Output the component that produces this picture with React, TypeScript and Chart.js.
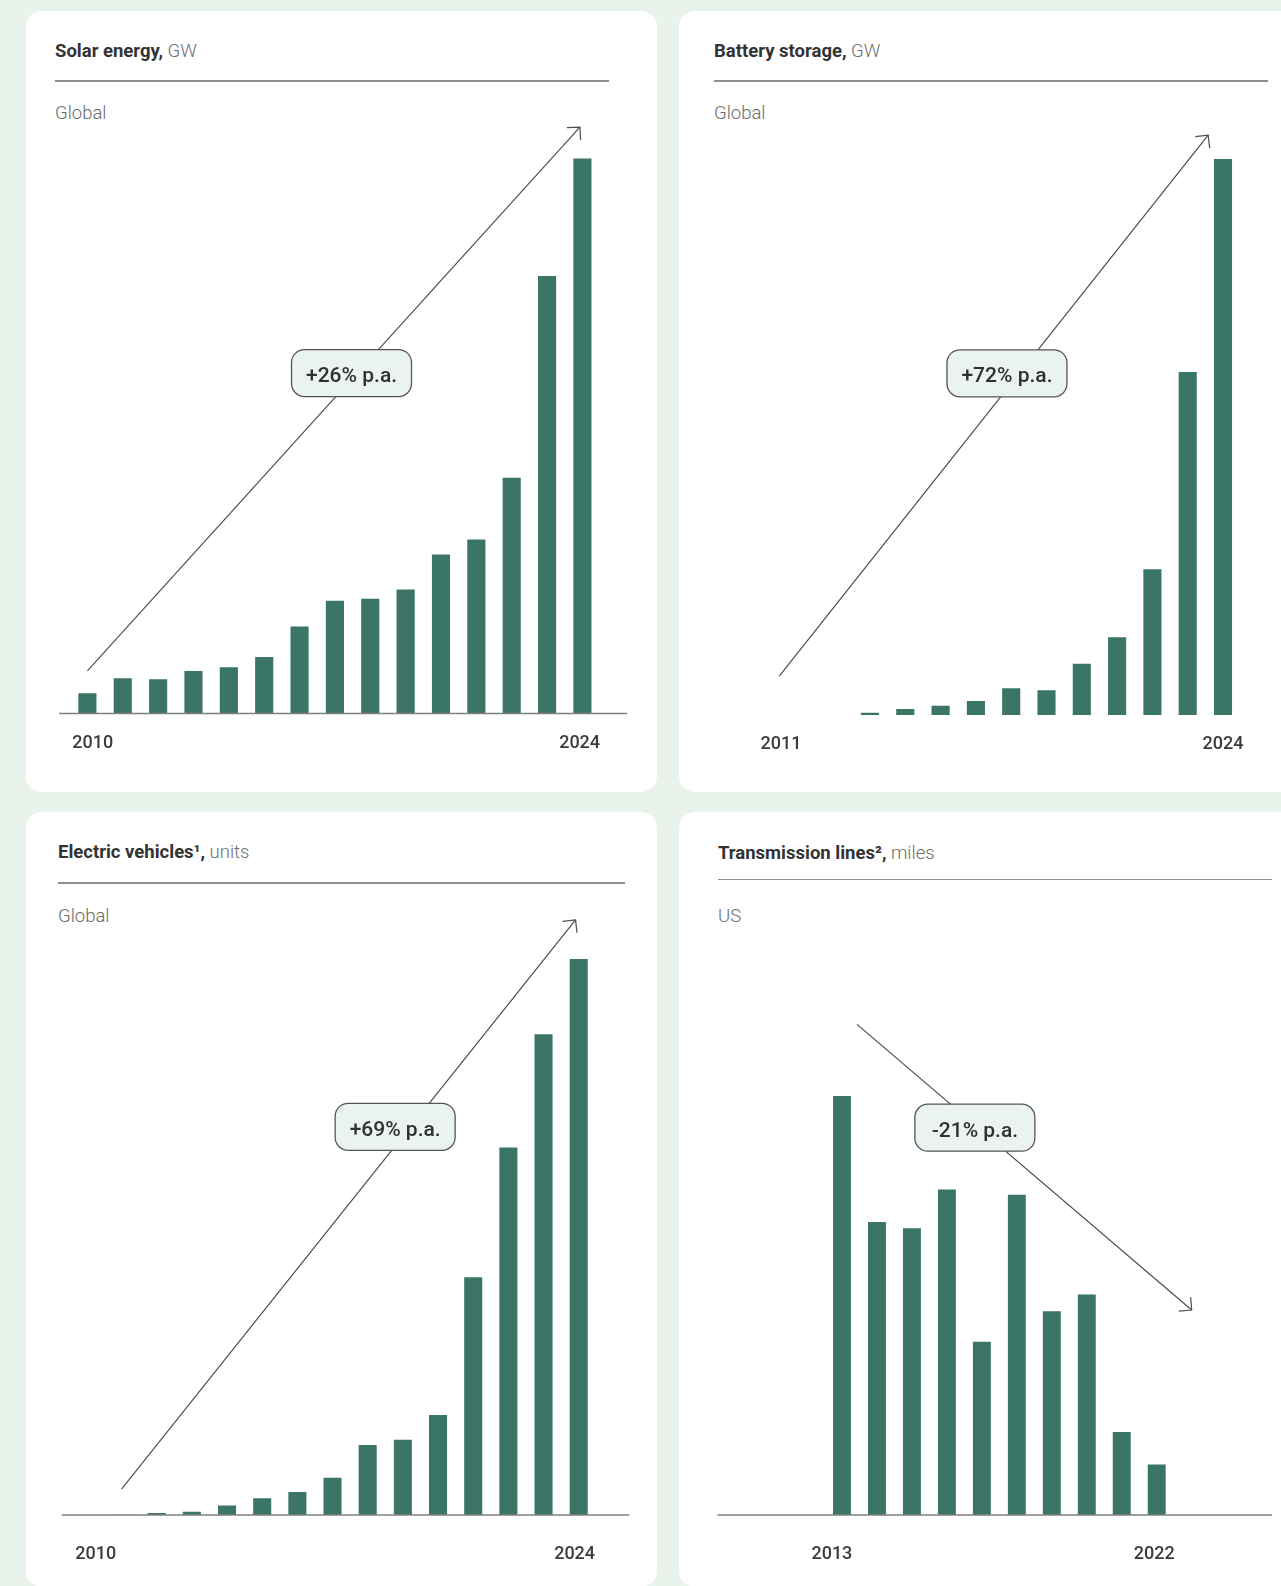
import React, { useEffect, useRef } from "react";
import { Chart, registerables } from "chart.js";

Chart.register(...registerables);

// ---------- data ----------
const solarYears = ["2010", "2011", "2012", "2013", "2014", "2015", "2016", "2017", "2018", "2019", "2020", "2021", "2022", "2023", "2024"];
const solarGW = [22, 38, 37, 46, 50, 61, 94, 122, 124, 134, 172, 188, 255, 473, 600];

const batteryYears = ["2011", "2012", "2013", "2014", "2015", "2016", "2017", "2018", "2019", "2020", "2021", "2022", "2023", "2024"];
const batteryGW = [0, 0, 0, 0.7, 1.8, 2.8, 4.3, 8.2, 7.6, 15.7, 23.8, 44.6, 104.9, 170];

// electric vehicles, millions of units
const evYears = ["2010", "2011", "2012", "2013", "2014", "2015", "2016", "2017", "2018", "2019", "2020", "2021", "2022", "2023", "2024"];
const evMillionUnits = [0, 0.01, 0.06, 0.1, 0.29, 0.51, 0.7, 1.14, 2.14, 2.3, 3.06, 7.27, 11.24, 14.7, 17.0];

const lineYears = ["2013", "2014", "2015", "2016", "2017", "2018", "2019", "2020", "2021", "2022"];
const lineMiles = [3990, 2790, 2730, 3100, 1650, 3050, 1940, 2100, 790, 480];

// trend arrows in data space: [category index, value]
const solarTrend = { from: [0, 46], to: [13.93, 634], at: [7.47, 368], text: "+26% p.a." };
const batteryTrend = { from: [0.43, 11.9], to: [12.58, 177.3], at: [6.88, 104.5], text: "+72% p.a." };
const evTrend = { from: [1.0, 0.79], to: [13.91, 18.2], at: [8.78, 11.87], text: "+69% p.a." };
const lineTrend = { from: [0.43, 4673], to: [10.0, 1952], at: [3.8, 3689], text: "-21% p.a." };

// ---------- styling ----------
const PAGE_W = 1281;
const PAGE_H = 1586;
const PAGE_BG = "#e9f3ec";
const BAR_COLOR = "#3a7568";
const FONT = "Roboto, 'Noto Sans', sans-serif";

type Trend = { from: number[]; to: number[]; at: number[]; text: string };
type Panel = {
  key: string;
  card: { left: number; top: number; width: number; height: number };
  title: string;
  unit: string;
  region: string;
  titlePos: [number, number];
  rule: { left: number; top: number; width: number };
  regionPos: [number, number];
  plot: { left: number; right: number; top: number; bottom: number };
  yMax: number;
  years: string[];
  values: number[];
  trend: Trend;
  axisLine: [number, number] | null;
  yearNudge: [number, number];
  yearGap: number;
};

const panels: Panel[] = [
  {
    key: "solar",
    card: { left: 26, top: 11, width: 631, height: 781 },
    title: "Solar energy,",
    unit: "GW",
    region: "Global",
    titlePos: [55, 41.8],
    rule: { left: 55, top: 80, width: 553.6 },
    regionPos: [55, 103.8],
    plot: { left: 69.72, right: 600.1, top: 66, bottom: 713.5 },
    yMax: 700,
    years: solarYears,
    values: solarGW,
    trend: solarTrend,
    axisLine: [59, 627],
    yearNudge: [5.4, -2.8],
    yearGap: 28.5,
  },
  {
    key: "battery",
    card: { left: 679, top: 11, width: 640, height: 781 },
    title: "Battery storage,",
    unit: "GW",
    region: "Global",
    titlePos: [714, 41.8],
    rule: { left: 714, top: 80, width: 554 },
    regionPos: [714, 103.8],
    plot: { left: 746.45, right: 1240.65, top: 61, bottom: 715 },
    yMax: 200,
    years: batteryYears,
    values: batteryGW,
    trend: batteryTrend,
    axisLine: null,
    yearNudge: [16.8, 0],
    yearGap: 27.7,
  },
  {
    key: "ev",
    card: { left: 26, top: 812, width: 631, height: 775 },
    title: "Electric vehicles\u00B9,",
    unit: "units",
    region: "Global",
    titlePos: [58, 843.4],
    rule: { left: 58, top: 882, width: 567 },
    regionPos: [58, 906.8],
    plot: { left: 68.78, right: 596.3, top: 861, bottom: 1515 },
    yMax: 20,
    years: evYears,
    values: evMillionUnits,
    trend: evTrend,
    axisLine: [61.7, 629.3],
    yearNudge: [9.4, -4.1],
    yearGap: 37.3,
  },
  {
    key: "lines",
    card: { left: 679, top: 812, width: 640, height: 775 },
    title: "Transmission lines\u00B2,",
    unit: "miles",
    region: "US",
    titlePos: [718, 844.4],
    rule: { left: 718, top: 878.6, width: 554 },
    regionPos: [718, 906.8],
    plot: { left: 824.5, right: 1174.2, top: 885, bottom: 1515 },
    yMax: 6000,
    years: lineYears,
    values: lineMiles,
    trend: lineTrend,
    axisLine: [717.4, 1272],
    yearNudge: [-10.1, -2.5],
    yearGap: 37.7,
  },
];

// Draws the baseline, the first/last year labels and the growth arrow with its pill label.
const trendPlugin = {
  id: "trendAnnotations",
  afterDatasetsDraw(chart: any, _args: any, opts: any) {
    const { ctx, chartArea, scales } = chart;
    const x = scales.x;
    const y = scales.y;
    ctx.save();

    if (opts.axisLine) {
      ctx.strokeStyle = "#808080";
      ctx.lineWidth = 1.3;
      ctx.beginPath();
      ctx.moveTo(opts.axisLine[0], chartArea.bottom);
      ctx.lineTo(opts.axisLine[1], chartArea.bottom);
      ctx.stroke();
    }

    const n = chart.data.labels.length;
    const yearSize = 18;
    ctx.font = `500 ${yearSize}px ${FONT}`;
    ctx.fillStyle = "#3b3b3b";
    ctx.textAlign = "center";
    ctx.textBaseline = "alphabetic";
    const ly = chartArea.bottom + opts.yearGap + yearSize * 0.3555;
    [0, n - 1].forEach((i, k) => {
      ctx.fillText(x.getLabelForValue(i), x.getPixelForValue(i) + opts.yearNudge[k], ly);
    });

    const t: Trend = opts.trend;
    const x0 = x.getPixelForValue(t.from[0]);
    const y0 = y.getPixelForValue(t.from[1]);
    const x1 = x.getPixelForValue(t.to[0]);
    const y1 = y.getPixelForValue(t.to[1]);
    ctx.strokeStyle = "#4d4d4d";
    ctx.lineWidth = 1.2;
    ctx.beginPath();
    ctx.moveTo(x0, y0);
    ctx.lineTo(x1, y1);
    ctx.stroke();
    const ang = Math.atan2(y0 - y1, x0 - x1);
    const head = 13;
    const spread = Math.PI / 4;
    ctx.beginPath();
    ctx.moveTo(x1 + head * Math.cos(ang + spread), y1 + head * Math.sin(ang + spread));
    ctx.lineTo(x1, y1);
    ctx.lineTo(x1 + head * Math.cos(ang - spread), y1 + head * Math.sin(ang - spread));
    ctx.stroke();

    const cx = x.getPixelForValue(t.at[0]);
    const cy = y.getPixelForValue(t.at[1]);
    const w = 120;
    const h = 47;
    ctx.beginPath();
    ctx.roundRect(cx - w / 2, cy - h / 2, w, h, 13);
    ctx.fillStyle = "#eaf3ed";
    ctx.fill();
    ctx.strokeStyle = "#555555";
    ctx.lineWidth = 1.3;
    ctx.stroke();
    const pillSize = 21;
    ctx.fillStyle = "#303030";
    ctx.font = `500 ${pillSize}px ${FONT}`;
    ctx.textAlign = "center";
    ctx.fillText(t.text, cx, cy + 1.5 + pillSize * 0.3555);

    ctx.restore();
  },
};

function BarPanel({ p }: { p: Panel }) {
  const ref = useRef<HTMLCanvasElement | null>(null);
  const cw = Math.min(p.card.width, PAGE_W - p.card.left);
  const ch = p.card.height;

  useEffect(() => {
    if (!ref.current) return;
    const chart = new Chart(ref.current, {
      type: "bar",
      data: {
        labels: p.years,
        datasets: [
          {
            data: p.values,
            backgroundColor: BAR_COLOR,
            borderWidth: 0,
            barPercentage: 0.513,
            categoryPercentage: 1,
          },
        ],
      },
      options: {
        responsive: false,
        animation: false,
        events: [],
        layout: {
          padding: {
            left: p.plot.left - p.card.left,
            right: cw - (p.plot.right - p.card.left),
            top: p.plot.top - p.card.top,
            bottom: ch - (p.plot.bottom - p.card.top),
          },
        },
        scales: {
          x: { display: false, offset: true, grid: { display: false } },
          y: { display: false, min: 0, max: p.yMax, grid: { display: false } },
        },
        plugins: {
          legend: { display: false },
          tooltip: { enabled: false },
          trendAnnotations: {
            trend: p.trend,
            axisLine: p.axisLine ? [p.axisLine[0] - p.card.left, p.axisLine[1] - p.card.left] : null,
            yearNudge: p.yearNudge,
            yearGap: p.yearGap,
          },
        },
      } as any,
      plugins: [trendPlugin],
    });
    return () => chart.destroy();
  }, [p, cw, ch]);

  return (
    <canvas
      ref={ref}
      width={cw}
      height={ch}
      style={{ position: "absolute", left: p.card.left, top: p.card.top, width: cw, height: ch }}
    />
  );
}

export default function App() {
  return (
    <div
      style={{
        position: "absolute",
        left: 0,
        top: 0,
        width: PAGE_W,
        height: PAGE_H,
        overflow: "hidden",
        background: PAGE_BG,
        fontFamily: FONT,
      }}
    >
      {panels.map((p) => (
        <div
          key={p.key + "-card"}
          style={{
            position: "absolute",
            left: p.card.left,
            top: p.card.top,
            width: p.card.width,
            height: p.card.height,
            background: "#ffffff",
            borderRadius: 16,
          }}
        />
      ))}
      {panels.map((p) => (
        <React.Fragment key={p.key}>
          <div
            style={{
              position: "absolute",
              left: p.titlePos[0],
              top: p.titlePos[1],
              fontSize: 18.5,
              lineHeight: "18.5px",
              whiteSpace: "nowrap",
            }}
          >
            <span style={{ fontWeight: 700, color: "#333333" }}>{p.title}</span>
            <span style={{ fontWeight: 300, color: "#6e6e6e" }}> {p.unit}</span>
          </div>
          <div
            style={{
              position: "absolute",
              left: p.rule.left,
              top: p.rule.top,
              width: p.rule.width,
              height: 1.5,
              background: "#8f8f8f",
            }}
          />
          <div
            style={{
              position: "absolute",
              left: p.regionPos[0],
              top: p.regionPos[1],
              fontSize: 18.5,
              lineHeight: "18.5px",
              fontWeight: 300,
              color: "#6b6b6b",
              whiteSpace: "nowrap",
            }}
          >
            {p.region}
          </div>
          <BarPanel p={p} />
        </React.Fragment>
      ))}
    </div>
  );
}
